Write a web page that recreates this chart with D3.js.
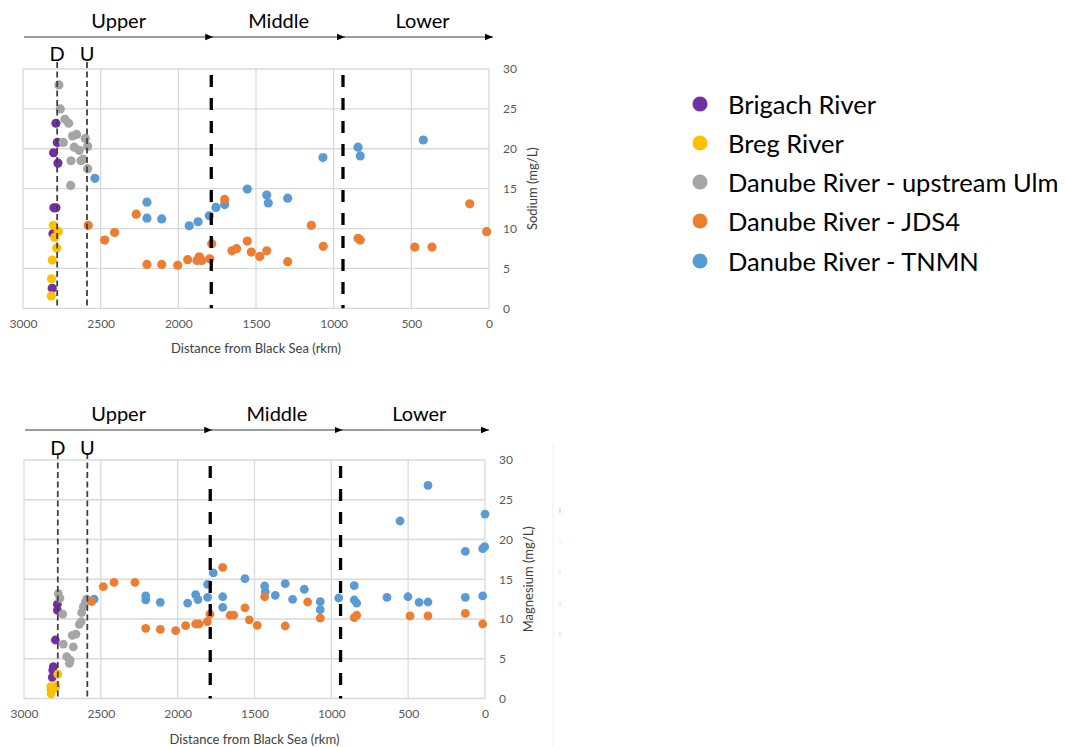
<!DOCTYPE html>
<html>
<head>
<meta charset="utf-8">
<script src="https://cdn.jsdelivr.net/npm/d3@7"></script>
<style>
  html, body { margin: 0; padding: 0; background: #ffffff; }
  svg { display: block; font-family: Lato, "Open Sans", sans-serif; }
</style>
</head>
<body>
<svg id="chart" width="1065" height="747"></svg>
<script>
// ---- Series (river km from the Black Sea, concentration in mg/L) ----
const seriesNames = ["Brigach River", "Breg River", "Danube River - upstream Ulm", "Danube River - JDS4", "Danube River - TNMN"];
const seriesColors = ["#7030A0", "#FFC000", "#A5A5A5", "#ED7D31", "#5B9BD5"];

// Sodium
const brigachNa = [[2788,23.2],[2779,20.8],[2803,19.5],[2775,18.2],[2801,12.6],[2788,12.6],[2807,9.35],[2812,2.5]];
const bregNa = [[2805,10.4],[2773,9.65],[2796,8.9],[2783,7.55],[2812,6.05],[2816,3.7],[2818,1.55]];
const upstreamUlmNa = [[2769,28.0],[2760,25.0],[2730,23.7],[2706,23.2],[2681,21.6],[2655,21.8],[2741,20.8],[2599,21.3],[2584,20.3],[2670,20.2],[2638,19.8],[2691,18.5],[2627,18.5],[2612,18.7],[2584,17.5],[2693,15.4]];
const jds4Na = [[2580,10.4],[2474,8.55],[2410,9.5],[2271,11.8],[2202,5.5],[2107,5.5],[2004,5.4],[1940,6.1],[1880,6.0],[1865,6.45],[1849,6.0],[1798,6.2],[1785,8.1],[1702,13.65],[1655,7.2],[1625,7.47],[1556,8.43],[1530,7.05],[1476,6.5],[1431,7.2],[1296,5.85],[1144,10.4],[1067,7.77],[843,8.77],[829,8.55],[478,7.68],[367,7.68],[124,13.1],[15,9.6]];
const tnmnNa = [[2537,16.3],[2202,13.3],[2202,11.3],[2107,11.2],[1930,10.35],[1873,10.85],[1801,11.6],[1758,12.65],[1702,13.0],[1556,14.95],[1431,14.2],[1421,13.2],[1296,13.8],[1069,18.9],[843,20.2],[829,19.1],[423,21.1]];

// Magnesium
const brigachMg = [[2783,11.85],[2783,11.1],[2796,7.36],[2809,4.0],[2813,3.58],[2816,2.67],[2820,1.16]];
const bregMg = [[2780,3.08],[2792,1.57],[2826,1.48],[2824,0.57],[2800,1.28]];
const upstreamUlmMg = [[2777,13.2],[2766,12.6],[2748,10.6],[2744,6.85],[2686,7.95],[2679,6.5],[2722,5.26],[2700,4.84],[2705,4.43],[2662,8.1],[2640,9.33],[2627,9.66],[2625,10.8],[2614,11.55],[2601,12.1],[2592,12.5]];
const jds4Mg = [[2559,12.2],[2484,14.06],[2414,14.6],[2278,14.6],[2208,8.83],[2113,8.7],[2013,8.53],[1948,9.16],[1883,9.37],[1861,9.37],[1807,9.66],[1790,10.6],[1707,16.5],[1659,10.47],[1635,10.47],[1562,11.4],[1534,9.9],[1482,9.2],[1434,12.8],[1300,9.12],[1154,12.14],[1072,10.1],[851,10.17],[835,10.47],[488,10.38],[371,10.38],[128,10.7],[15,9.37]];
const tnmnMg = [[2544,12.5],[2208,12.9],[2208,12.4],[2113,12.1],[1935,12.0],[1883,13.06],[1868,12.45],[1805,14.36],[1805,12.73],[1768,15.8],[1707,12.8],[1707,11.47],[1562,15.07],[1434,14.15],[1430,13.43],[1365,12.98],[1300,14.44],[1252,12.48],[1176,13.74],[1072,12.18],[1072,11.17],[952,12.64],[851,14.19],[851,12.39],[835,12.0],[638,12.73],[553,22.33],[501,12.8],[429,12.1],[371,12.14],[371,26.8],[128,12.73],[128,18.5],[15,12.9],[15,18.84],[2,19.1],[0,23.2]];

// ---- Axes and annotations ----
const rkmTicks = [3000, 2500, 2000, 1500, 1000, 500, 0];
const concTicks = [0, 5, 10, 15, 20, 25, 30];
const reachNames = ["Upper", "Middle", "Lower"];
const reachBounds = [1788, 940];          // Upper/Middle and Middle/Lower limits (rkm)
const siteNames = ["D", "U"];
const siteRkm = [2780, 2588];             // Donaueschingen, Ulm

// series arrays follow seriesNames order; drawOrder puts TNMN beneath JDS4
const panels = [
  { series: [brigachNa, bregNa, upstreamUlmNa, jds4Na, tnmnNa], drawOrder: [0,1,2,4,3],
    yTitle: "Sodium (mg/L)", left: 23, right: 489, top: 69, bottom: 308.3,
    reachY: 20, arrowY: 37, siteY: 53, r: 4.6 },
  { series: [brigachMg, bregMg, upstreamUlmMg, jds4Mg, tnmnMg], drawOrder: [0,1,2,4,3],
    yTitle: "Magnesium (mg/L)", left: 24, right: 485, top: 460, bottom: 698.5,
    reachY: 413, arrowY: 430, siteY: 447, r: 4.4 }
];

const svg = d3.select("#chart");
const defs = svg.append("defs");
defs.append("marker")
  .attr("id", "arrowhead").attr("viewBox", "0 0 10 10")
  .attr("refX", 10).attr("refY", 5)
  .attr("markerWidth", 8).attr("markerHeight", 8)
  .attr("markerUnits", "userSpaceOnUse")
  .attr("orient", "auto")
  .append("path").attr("d", "M0,1 L10,5 L0,9 Z").attr("fill", "#000");

panels.forEach(p => {
  const x = d3.scaleLinear().domain([3000, 0]).range([p.left, p.right]);
  const y = d3.scaleLinear().domain([0, 30]).range([p.bottom, p.top]);
  const g = svg.append("g");

  // gridlines (also form the plot frame)
  g.append("g").selectAll("line").data(concTicks).join("line")
    .attr("x1", p.left).attr("x2", p.right)
    .attr("y1", d => y(d)).attr("y2", d => y(d))
    .attr("stroke", "#d9d9d9").attr("stroke-width", 1.3);
  g.append("g").selectAll("line").data(rkmTicks).join("line")
    .attr("x1", d => x(d)).attr("x2", d => x(d))
    .attr("y1", p.top).attr("y2", p.bottom)
    .attr("stroke", "#d9d9d9").attr("stroke-width", 1.3);

  // x axis labels
  const xAxis = d3.axisBottom(x).tickValues(rkmTicks).tickSize(0).tickPadding(11).tickFormat(d3.format("d"));
  const xa = g.append("g").attr("transform", `translate(0,${p.bottom})`).call(xAxis);
  xa.select(".domain").remove();
  xa.selectAll("text").attr("fill", "#595959").style("font-size", "12px").style("font-family", "Lato, sans-serif");
  g.append("text")
    .attr("x", (p.left + p.right) / 2).attr("y", p.bottom + 45)
    .attr("text-anchor", "middle").attr("fill", "#404040")
    .style("font-size", "13px")
    .text("Distance from Black Sea (rkm)");

  // y axis labels (right side)
  const yAxis = d3.axisRight(y).tickValues(concTicks).tickSize(0).tickPadding(14);
  const ya = g.append("g").attr("transform", `translate(${p.right},0)`).call(yAxis);
  ya.select(".domain").remove();
  ya.selectAll("text").attr("fill", "#595959").style("font-size", "12px").style("font-family", "Lato, sans-serif");
  g.append("text")
    .attr("transform", `translate(${p.right + 43},${(p.top + p.bottom) / 2}) rotate(-90)`)
    .attr("text-anchor", "middle").attr("dominant-baseline", "central")
    .attr("fill", "#404040").style("font-size", "13px")
    .text(p.yTitle);

  // data points
  p.drawOrder.forEach(i => {
    g.append("g").selectAll("circle").data(p.series[i]).join("circle")
      .attr("cx", d => x(d[0])).attr("cy", d => y(d[1]))
      .attr("r", p.r).attr("fill", seriesColors[i]);
  });

  // source / Ulm markers
  siteRkm.forEach((v, i) => {
    g.append("line")
      .attr("x1", x(v)).attr("x2", x(v))
      .attr("y1", p.top - 7).attr("y2", p.bottom)
      .attr("stroke", "#404040").attr("stroke-width", 1.8)
      .attr("stroke-dasharray", "6,3.5");
    g.append("text")
      .attr("x", x(v)).attr("y", p.siteY)
      .attr("text-anchor", "middle").attr("dominant-baseline", "central")
      .attr("fill", "#000").style("font-size", "20px")
      .text(siteNames[i]);
  });

  // reach boundaries
  reachBounds.forEach(v => {
    g.append("line")
      .attr("x1", x(v)).attr("x2", x(v))
      .attr("y1", p.top + 6).attr("y2", p.bottom)
      .attr("stroke", "#000").attr("stroke-width", 3.3)
      .attr("stroke-dasharray", "12,11");
  });

  // reach arrows and names
  const stops = [3000, reachBounds[0], reachBounds[1], 0];
  for (let k = 0; k < 3; k++) {
    const xa0 = x(stops[k]) + 1;
    const xa1 = k === 2 ? x(stops[k + 1]) + 4 : x(stops[k + 1]) + 2;
    g.append("line")
      .attr("x1", xa0).attr("x2", xa1)
      .attr("y1", p.arrowY).attr("y2", p.arrowY)
      .attr("stroke", "#3a3a3a").attr("stroke-width", 1)
      .attr("marker-end", "url(#arrowhead)");
    g.append("text")
      .attr("x", (xa0 + xa1) / 2 + (k === 2 ? 4 : 0)).attr("y", p.reachY)
      .attr("text-anchor", "middle").attr("dominant-baseline", "central")
      .attr("fill", "#000").style("font-size", "20px")
      .text(reachNames[k]);
  }
});

// faint frame edge beside the magnesium panel
svg.append("line")
  .attr("x1", 553).attr("x2", 553).attr("y1", 444).attr("y2", 747)
  .attr("stroke", "#f0f0f0").attr("stroke-width", 1);
svg.append("g").selectAll("line").data(seriesColors).join("line")
  .attr("x1", 560).attr("x2", 560)
  .attr("y1", (d, i) => 508 + i * 31).attr("y2", (d, i) => 513 + i * 31)
  .attr("stroke", d => d).attr("stroke-opacity", 0.35).attr("stroke-width", 1);

// legend
const legend = svg.append("g").attr("transform", "translate(700,104)");
const items = legend.selectAll("g").data(seriesNames).join("g")
  .attr("transform", (d, i) => `translate(0,${[0, 39, 78, 117, 157][i]})`);
items.append("circle").attr("r", 7.5).attr("fill", (d, i) => seriesColors[i]);
items.append("text")
  .attr("x", 28).attr("y", 0)
  .attr("dominant-baseline", "central")
  .attr("fill", "#000").style("font-size", "25.5px")
  .text(d => d);
</script>
</body>
</html>
